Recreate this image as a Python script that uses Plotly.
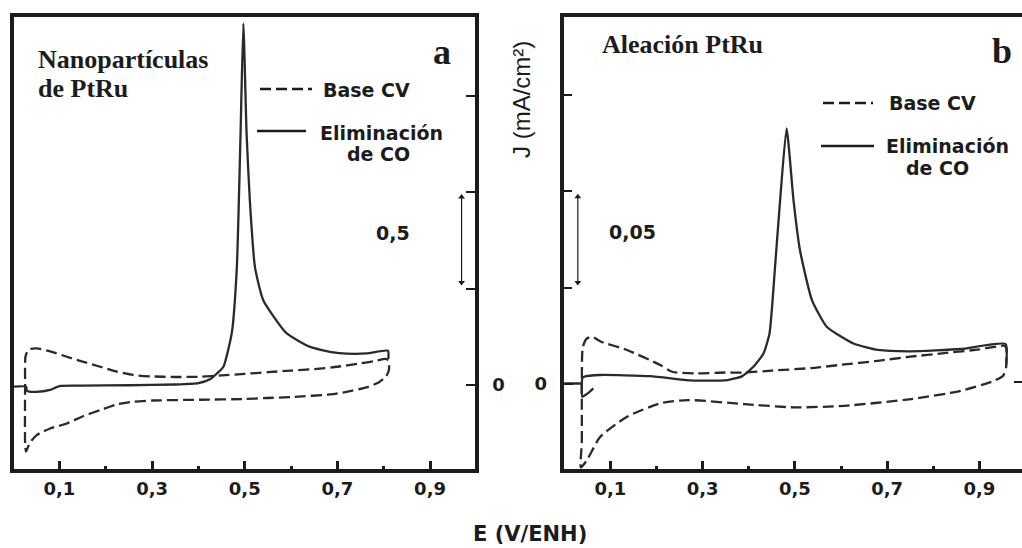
import plotly.graph_objects as go

# ---------------- data ----------------
# Panel a: PtRu nanoparticles, J in mA/cm2
base_a_E = [0.028, 0.026, 0.026, 0.027, 0.034, 0.051, 0.080, 0.116, 0.150, 0.188, 0.220, 0.260, 0.300,
            0.350, 0.403, 0.450, 0.500, 0.550, 0.600, 0.650, 0.700, 0.750, 0.780, 0.806, 0.811, 0.811,
            0.805, 0.790, 0.763, 0.720, 0.691, 0.600, 0.547, 0.500, 0.403, 0.300, 0.260, 0.224, 0.188,
            0.152, 0.116, 0.080, 0.051, 0.036, 0.028]
base_a_J = [-0.345, -0.300, 0.000, 0.150, 0.185, 0.190, 0.175, 0.147, 0.122, 0.095, 0.072, 0.052, 0.045,
            0.042, 0.043, 0.050, 0.058, 0.067, 0.075, 0.083, 0.095, 0.113, 0.124, 0.135, 0.120, 0.075,
            0.045, 0.015, -0.012, -0.035, -0.047, -0.062, -0.067, -0.072, -0.076, -0.080, -0.086, -0.100, -0.130,
            -0.160, -0.199, -0.225, -0.259, -0.300, -0.345]
co_a_E = [0.000, 0.028, 0.030, 0.050, 0.080, 0.100, 0.150, 0.250, 0.350, 0.400, 0.425, 0.440, 0.454,
          0.472, 0.483, 0.491, 0.497, 0.504, 0.511, 0.522, 0.540, 0.590, 0.641, 0.691, 0.720, 0.763,
          0.809, 0.810]
co_a_J = [-0.008, -0.008, -0.030, -0.035, -0.025, -0.005, -0.003, -0.001, 0.003, 0.010, 0.030, 0.060, 0.095,
          0.269, 0.613, 1.304, 1.874, 1.304, 0.958, 0.613, 0.440, 0.269, 0.198, 0.169, 0.163, 0.164,
          0.178, 0.135]

# Panel b: PtRu alloy, J in mA/cm2
base_b_E = [0.036, 0.038, 0.038, 0.040, 0.048, 0.060, 0.080, 0.136, 0.208, 0.234, 0.282, 0.350, 0.390,
            0.450, 0.535, 0.600, 0.680, 0.750, 0.824, 0.900, 0.954, 0.958, 0.958, 0.952, 0.932, 0.860,
            0.752, 0.607, 0.499, 0.390, 0.268, 0.208, 0.136, 0.078, 0.049, 0.036]
base_b_J = [-0.0433, -0.0300, 0.0000, 0.0190, 0.0235, 0.0246, 0.0220, 0.0177, 0.0099, 0.0064, 0.0055, 0.0060, 0.0060,
            0.0070, 0.0083, 0.0100, 0.0121, 0.0142, 0.0161, 0.0180, 0.0199, 0.0190, 0.0087, 0.0045, 0.0017, -0.0035,
            -0.0078, -0.0113, -0.0121, -0.0104, -0.0083, -0.0100, -0.0170, -0.0274, -0.0395, -0.0433]
co_b_E = [-0.005, 0.036, None, 0.063, 0.050, 0.039, 0.038, 0.039, 0.043, 0.078, 0.186, 0.264, 0.300,
          0.354, 0.385, 0.410, 0.432, 0.445, 0.457, 0.468, 0.482, 0.497, 0.511, 0.537, 0.569, 0.627,
          0.680, 0.752, 0.860, 0.957, 0.958]
co_b_J = [0.0003, 0.0003, None, -0.0022, -0.0050, -0.0066, 0.0000, 0.0030, 0.0038, 0.0047, 0.0041, 0.0021, 0.0018,
          0.0021, 0.0040, 0.0090, 0.0159, 0.0263, 0.0609, 0.0955, 0.1328, 0.0955, 0.0696, 0.0436, 0.0298, 0.0211,
          0.0177, 0.0170, 0.0182, 0.0208, 0.0100]

# scale bars: position (E) and J span
scale_a_E = [0.968, 0.968]
scale_a_J = [0.532, 0.975]
scale_b_E = [0.0293, 0.0293]
scale_b_J = [0.0528, 0.0973]

x_tick_vals = [0.1, 0.3, 0.5, 0.7, 0.9]
x_tick_text = ["0,1", "0,3", "0,5", "0,7", "0,9"]
x_minor_vals = [0.2, 0.4, 0.6, 0.8]
y_label_vals = [0.0]
y_label_text = ["0"]
y_unlabeled_a = [0.5, 1.0, 1.5]
y_unlabeled_b = [0.05, 0.10, 0.15]

# ---------------- styling ----------------
W, H = 1022, 548
def px(x):
    return x / W
def py(y):
    return 1 - y / H

INK = "#1c1c1c"
CURVE = "#2a2a2a"
DASH = "11px,5px"
SANS = "DejaVu Sans, Verdana, sans-serif"
SERIF = "Liberation Serif, Times New Roman, serif"

fig = go.Figure()
fig.add_trace(go.Scatter(x=base_a_E, y=base_a_J, mode="lines", xaxis="x", yaxis="y",
                         line=dict(color=CURVE, width=2.3, dash=DASH, shape="spline", smoothing=0.6),
                         showlegend=False, hoverinfo="skip"))
fig.add_trace(go.Scatter(x=co_a_E, y=co_a_J, mode="lines", xaxis="x", yaxis="y",
                         line=dict(color=CURVE, width=2.3, shape="spline", smoothing=0.5),
                         showlegend=False, hoverinfo="skip"))
fig.add_trace(go.Scatter(x=base_b_E, y=base_b_J, mode="lines", xaxis="x2", yaxis="y2",
                         line=dict(color=CURVE, width=2.3, dash=DASH, shape="spline", smoothing=0.6),
                         showlegend=False, hoverinfo="skip"))
fig.add_trace(go.Scatter(x=co_b_E, y=co_b_J, mode="lines", xaxis="x2", yaxis="y2", connectgaps=False,
                         line=dict(color=CURVE, width=2.3, shape="spline", smoothing=0.5),
                         showlegend=False, hoverinfo="skip"))
# scale bars with arrow heads
for (ex, jy, xa, ya) in [(scale_a_E, scale_a_J, "x", "y"), (scale_b_E, scale_b_J, "x2", "y2")]:
    fig.add_trace(go.Scatter(x=ex, y=jy, mode="lines+markers", xaxis=xa, yaxis=ya,
                             line=dict(color=INK, width=1.2),
                             marker=dict(symbol=["triangle-down", "triangle-up"], size=6, color=INK),
                             showlegend=False, hoverinfo="skip"))

tickfont = dict(family=SANS, size=18, color=INK, weight="bold")
minor_x = dict(tickvals=x_minor_vals, ticks="inside", ticklen=3, tickwidth=3, tickcolor=INK, showgrid=False)
common_x = dict(showline=True, linewidth=3.5, linecolor=INK, mirror=True, ticks="inside", ticklen=8,
                tickwidth=3, tickcolor=INK, tickvals=x_tick_vals, ticktext=x_tick_text, tickfont=tickfont,
                ticklabelstandoff=1, showgrid=False, zeroline=False, minor=minor_x)
common_y = dict(showline=True, linewidth=3.5, linecolor=INK, ticks="inside", ticklen=9,
                tickwidth=2, tickcolor=INK, tickvals=y_label_vals, ticktext=y_label_text,
                tickfont=tickfont, ticklabelstandoff=10, showgrid=False, zeroline=False)
fig.update_layout(
    width=W, height=H, margin=dict(l=0, r=0, t=0, b=0),
    paper_bgcolor="white", plot_bgcolor="white", showlegend=False,
    xaxis=dict(domain=[px(14), px(475)], range=[0.002, 0.997], anchor="y", **common_x),
    yaxis=dict(domain=[py(469), py(17)], range=[-0.435, 1.908], anchor="x", side="right", mirror=True,
               minor=dict(tickvals=y_unlabeled_a, ticks="inside", ticklen=9, tickwidth=2, tickcolor=INK,
                          showgrid=False),
               **common_y),
    xaxis2=dict(domain=[px(564.3), 1.0], range=[0.0, 0.9925], anchor="y2", **common_x),
    yaxis2=dict(domain=[py(469), py(17)], range=[-0.0441, 0.1906], anchor="x2", side="left", mirror=False,
                minor=dict(tickvals=y_unlabeled_b, ticks="inside", ticklen=8, tickwidth=2, tickcolor=INK,
                           showgrid=False),
                **common_y),
)

shapes = []
# legend samples (panel a, panel b)
for (x0, x1, y, dash) in [(260, 312, 89, DASH), (257, 306, 131, "solid"),
                          (823, 873, 103, DASH), (821, 874, 146, "solid")]:
    shapes.append(dict(type="line", xref="paper", yref="paper", x0=px(x0), x1=px(x1), y0=py(y), y1=py(y),
                       line=dict(color=INK, width=2.3, dash=dash)))
# stray tick at the right edge of panel b
shapes.append(dict(type="line", xref="paper", yref="paper", x0=px(1014), x1=px(1022), y0=py(382), y1=py(382),
                   line=dict(color=INK, width=2)))
fig.update_layout(shapes=shapes)

def text(x, y, s, size, family=SANS, xanchor="center", yanchor="middle", angle=0, color=INK):
    fig.add_annotation(x=px(x), y=py(y), xref="paper", yref="paper", text=s, showarrow=False,
                       xanchor=xanchor, yanchor=yanchor, textangle=angle,
                       font=dict(family=family, size=size, color=color))

text(36, 59, "<b>Nanopartículas</b>", 26, family=SERIF, xanchor="left")
text(36, 88, "<b>de PtRu</b>", 26, family=SERIF, xanchor="left")
text(442, 52, "<b>a</b>", 36, family=SERIF)
text(600, 45, "<b>Aleación PtRu</b>", 26, family=SERIF, xanchor="left")
text(1002, 51, "<b>b</b>", 36, family=SERIF)

text(321, 90, "<b>Base CV</b>", 19, xanchor="left")
text(318, 133, "<b>Eliminación</b>", 19, xanchor="left")
text(378, 154, "<b>de CO</b>", 19)
text(887, 103, "<b>Base CV</b>", 19, xanchor="left")
text(884, 146, "<b>Eliminación</b>", 19, xanchor="left")
text(937, 168, "<b>de CO</b>", 19)

text(393, 233, "<b>0,5</b>", 19)
text(632, 232, "<b>0,05</b>", 19)

text(530, 548, "<b>E (V/ENH)</b>", 21, yanchor="bottom")
text(521, 100, "J (mA/cm²)", 24, family="Liberation Sans, Arial, sans-serif", angle=-90)

fig.write_html("out.html", config={"displayModeBar": False},
               post_script="document.body.style.margin='0';document.body.style.overflow='hidden';")
